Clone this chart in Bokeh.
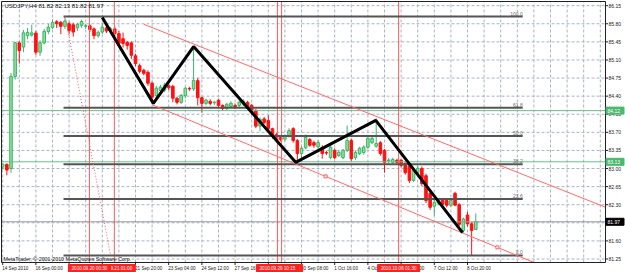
from bokeh.plotting import figure
from bokeh.models import Range1d
from bokeh.core.properties import value
from bokeh.embed import file_html
from bokeh.resources import INLINE

# ---------------- data ----------------
opens = [83.03, 83.08, 83.00, 84.78, 85.43, 85.35, 85.57, 85.58, 85.62, 85.25,
         85.43, 85.65, 85.73, 85.84, 85.83, 85.75, 85.80, 85.78, 85.72, 85.77,
         85.75, 85.76, 85.70, 85.57, 85.64, 85.72, 85.66, 85.70, 85.61, 85.51,
         85.44, 85.43, 85.18, 84.99, 84.90, 84.86, 84.65, 84.41, 84.51, 84.52,
         84.60, 84.59, 84.36, 84.28, 84.41, 84.55, 84.54, 84.70, 84.37, 84.26,
         84.30, 84.27, 84.32, 84.22, 84.16, 84.20, 84.22, 84.22, 84.24, 84.28,
         84.22, 84.12, 83.82, 83.96, 83.93, 83.77, 83.66, 83.60, 83.57, 83.63,
         83.77, 83.54, 83.29, 83.40, 83.56, 83.50, 83.42, 83.41, 83.31, 83.21,
         83.35, 83.25, 83.21, 83.35, 83.54, 83.21, 83.29, 83.31, 83.41, 83.50,
         83.43, 83.50, 83.35, 83.15, 83.12, 83.16, 83.16, 83.10, 83.06, 82.77,
         82.92, 83.00, 82.86, 82.52, 82.27, 82.33, 82.40, 82.38, 82.29, 82.52,
         82.30, 81.80, 82.10, 81.93, 81.82]
highs = [83.10, 83.10, 84.85, 85.45, 85.46, 85.68, 85.72, 85.78, 85.66, 85.48,
         85.70, 85.80, 85.88, 85.87, 85.85, 85.94, 85.84, 85.82, 85.82, 85.88,
         85.80, 85.79, 85.73, 85.67, 85.82, 85.76, 85.74, 85.75, 85.66, 85.63,
         85.47, 85.46, 85.22, 85.03, 84.93, 84.90, 84.68, 84.60, 84.62, 84.66,
         84.64, 84.62, 84.38, 84.44, 84.57, 84.58, 85.36, 84.75, 84.39, 84.35,
         84.34, 84.31, 84.35, 84.24, 84.27, 84.30, 84.26, 84.31, 84.34, 84.31,
         84.25, 84.15, 83.99, 84.00, 84.03, 83.79, 83.69, 83.63, 83.66, 83.78,
         83.80, 83.57, 83.43, 83.66, 83.59, 83.54, 83.55, 83.45, 83.34, 83.45,
         83.39, 83.35, 83.38, 83.83, 83.58, 83.35, 83.42, 83.45, 83.62, 83.64,
         83.97, 83.53, 83.38, 83.20, 83.21, 83.19, 83.19, 83.12, 83.08, 82.99,
         83.05, 83.04, 82.90, 82.55, 82.44, 82.42, 82.43, 82.41, 82.42, 82.55,
         82.33, 82.05, 82.16, 81.96, 82.13]
lows = [82.98, 82.87, 82.92, 84.72, 85.03, 85.25, 85.50, 85.55, 85.20, 85.18,
        85.40, 85.60, 85.70, 85.72, 85.60, 85.70, 85.60, 85.55, 85.66, 85.72,
        85.70, 85.64, 85.50, 85.53, 85.60, 85.62, 85.60, 85.55, 85.36, 85.34,
        85.30, 85.12, 84.98, 84.84, 84.80, 84.60, 84.26, 84.33, 84.47, 84.48,
        84.52, 84.28, 84.24, 84.25, 84.36, 84.50, 84.50, 84.22, 84.08, 84.22,
        84.22, 84.23, 84.19, 84.12, 84.13, 84.17, 84.15, 84.19, 84.21, 84.15,
        84.04, 83.78, 83.72, 83.86, 83.74, 83.58, 83.50, 83.52, 83.53, 83.60,
        83.50, 83.12, 83.20, 83.37, 83.42, 83.40, 83.38, 83.19, 83.26, 83.18,
        83.18, 83.22, 83.18, 83.32, 83.15, 83.17, 83.26, 83.27, 83.38, 83.47,
        83.40, 83.25, 82.92, 83.10, 83.08, 83.08, 83.02, 82.88, 82.72, 82.74,
        82.89, 82.66, 82.33, 82.20, 82.09, 82.29, 82.27, 82.25, 82.26, 82.28,
        81.88, 81.76, 81.88, 81.32, 81.82]
closes = [83.08, 82.97, 84.78, 85.43, 85.28, 85.62, 85.63, 85.62, 85.25, 85.43,
          85.65, 85.73, 85.82, 85.80, 85.75, 85.85, 85.67, 85.64, 85.78, 85.84,
          85.76, 85.69, 85.57, 85.63, 85.73, 85.66, 85.70, 85.61, 85.42, 85.42,
          85.38, 85.19, 85.03, 84.88, 84.84, 84.65, 84.38, 84.55, 84.57, 84.61,
          84.56, 84.36, 84.28, 84.41, 84.55, 84.54, 84.70, 84.37, 84.26, 84.32,
          84.26, 84.28, 84.22, 84.16, 84.24, 84.26, 84.18, 84.28, 84.30, 84.18,
          84.08, 83.82, 83.95, 83.89, 83.77, 83.64, 83.54, 83.56, 83.63, 83.73,
          83.54, 83.29, 83.39, 83.60, 83.45, 83.45, 83.50, 83.29, 83.30, 83.41,
          83.21, 83.31, 83.35, 83.54, 83.19, 83.31, 83.39, 83.41, 83.58, 83.58,
          83.48, 83.29, 83.12, 83.16, 83.17, 83.12, 83.06, 82.92, 82.77, 82.96,
          83.00, 82.71, 82.38, 82.25, 82.34, 82.38, 82.31, 82.29, 82.38, 82.29,
          81.92, 82.02, 81.93, 81.80, 81.97]
bars = list(range(len(opens)))

price_ticks = [86.15, 85.80, 85.45, 85.10, 84.75, 84.40, 84.05, 83.70,
               83.35, 83.00, 82.65, 82.30, 81.95, 81.60, 81.25]
time_tick_bars = [0, 8, 16, 24, 32, 40, 48, 56, 64, 72, 80, 88, 96, 104, 112]
time_tick_labels = ["14 Sep 2010", "16 Sep 00:00", "17 Sep 08:00", "20 Sep 12:00",
                    "21 Sep 20:00", "23 Sep 04:00", "24 Sep 12:00", "27 Sep 16:00",
                    "29 Sep 00:00", "30 Sep 08:00", "1 Oct 16:00", "4 Oct 20:00",
                    "6 Oct 04:00", "7 Oct 12:00", "8 Oct 20:00"]

fib_high, fib_low = 85.94, 81.32
fib_ratios = [1.0, 0.618, 0.5, 0.382, 0.236, 0.0]
fib_names = ["100.0", "61.8", "50.0", "38.2", "23.6", "0.0"]
fib_start_bar, fib_end_bar = 14.65, 125.3
fib_diag_bars = [15.1, 26.0]

zigzag_bars = [24.0, 36.3, 46.0, 70.6, 89.9, 110.8]
zigzag_prices = [85.92, 84.26, 85.36, 83.12, 83.93, 81.76]

upper_channel_bars = [34.0, 145.3]
upper_channel_prices = [85.79, 82.25]
lower_channel_bars = [36.1, 128.4]
lower_channel_prices = [84.23, 81.17]
lower_marker_bars = [77.8, 119.2]

vline_bars = [26.9, 20.9, 67.2, 66.2, 95.4]
vline_labels = ["2010.09.21 01:00", "2010.09.20 00:30", "2010.09.29 14:15",
                "2010.09.29 10:15", "2010.10.06 01:30"]

green_levels = [84.12, 83.13]
bid_price = 81.97
title_text = "USDJPY,H4 81.82 82.13 81.82 81.97"
copyright_text = "MetaTrader, \u00a9 2001-2010 MetaQuotes Software Corp."

# ---------------- layout (pixel geometry of the terminal window) ----------------
W, H = 625, 272
PX_PER_BAR = 4.15
X0_PX = 2.2          # canvas x of bar 0
PX_PER_PRICE = 51.7
TOP_PRICE = 86.25    # price at canvas y = 0
CH_L, CH_R, CH_T, CH_B = 1, 605, 1, 262   # chart box in canvas pixels


def bx(px):
    return (px - X0_PX) / PX_PER_BAR


def py(px):
    return TOP_PRICE - px / PX_PER_PRICE


FONT = value("Liberation Sans")
GRID = "#a9b3c4"
AXIS = "#202020"

p = figure(width=W, height=H, output_backend="svg", toolbar_location=None,
           x_range=Range1d(bx(0), bx(W)), y_range=Range1d(py(H), py(0)),
           x_axis_location=None, y_axis_location=None,
           min_border_left=0, min_border_right=0, min_border_top=0, min_border_bottom=0)
p.background_fill_color = "white"
p.border_fill_color = "white"
p.outline_line_color = None
p.grid.visible = False

L, R, T, B = bx(CH_L), bx(CH_R), py(CH_T), py(CH_B)

# grid
grid_bars = list(range(0, 146, 4))
p.segment(x0=[L] * len(price_ticks), x1=[R] * len(price_ticks), y0=price_ticks, y1=price_ticks,
          line_color=GRID, line_dash="3 2", line_width=1)
p.segment(x0=grid_bars, x1=grid_bars, y0=[B] * len(grid_bars), y1=[T] * len(grid_bars),
          line_color=GRID, line_dash="3 2", line_width=1)

# ---------------- candles ----------------
bull = [i for i in bars if closes[i] >= opens[i]]
bear = [i for i in bars if closes[i] < opens[i]]
BULL_FILL, BULL_LINE = "#8fe08f", "#3cb371"
BEAR_FILL, BEAR_LINE = "#ff1010", "#ff1010"

p.segment(x0=[bars[i] for i in bull], x1=[bars[i] for i in bull],
          y0=[highs[i] for i in bull], y1=[lows[i] for i in bull],
          line_color=BULL_LINE, line_width=1)
p.segment(x0=[bars[i] for i in bear], x1=[bars[i] for i in bear],
          y0=[highs[i] for i in bear], y1=[lows[i] for i in bear],
          line_color=BEAR_LINE, line_width=1)
p.vbar(x=[bars[i] for i in bull], width=0.62,
       top=[max(opens[i], closes[i]) + 0.004 for i in bull],
       bottom=[min(opens[i], closes[i]) for i in bull],
       fill_color=BULL_FILL, line_color=BULL_LINE, line_width=1)
p.vbar(x=[bars[i] for i in bear], width=0.62,
       top=[max(opens[i], closes[i]) for i in bear],
       bottom=[min(opens[i], closes[i]) for i in bear],
       fill_color=BEAR_FILL, line_color=BEAR_LINE, line_width=1)

# ---------------- objects ----------------
p.segment(x0=[L] * len(green_levels), x1=[R] * len(green_levels), y0=green_levels, y1=green_levels,
          line_color="#66c08a", line_width=1)
p.segment(x0=[L], x1=[R], y0=[bid_price], y1=[bid_price], line_color="#9a9a9a", line_width=1)
p.segment(x0=vline_bars, x1=vline_bars, y0=[B] * len(vline_bars), y1=[T] * len(vline_bars),
          line_color="#ff5a5a", line_width=1)

fib_prices = [fib_low + r * (fib_high - fib_low) for r in fib_ratios]
p.segment(x0=[fib_start_bar] * len(fib_prices), x1=[fib_end_bar] * len(fib_prices),
          y0=fib_prices, y1=fib_prices, line_color="#555555", line_width=2)
p.text(x=[fib_end_bar] * len(fib_prices), y=fib_prices, text=fib_names,
       text_font=FONT, text_font_size="5px", text_color="#6a6a6a",
       text_align="right", text_baseline="bottom", y_offset=-1)
p.line(x=fib_diag_bars, y=[fib_high, fib_low], line_color="#ff5a5a",
       line_width=1, line_dash="1 2")


def ray_in_box(bxs, pys):
    s = (pys[1] - pys[0]) / (bxs[1] - bxs[0])
    x_end = R
    y_end = pys[0] + s * (x_end - bxs[0])
    if y_end < B:
        x_end = bxs[0] + (B - pys[0]) / s
        y_end = B
    return [bxs[0], x_end], [pys[0], y_end], s


ux, uy, _ = ray_in_box(upper_channel_bars, upper_channel_prices)
lx, ly, ls = ray_in_box(lower_channel_bars, lower_channel_prices)
p.line(ux, uy, line_color="#ff6a6a", line_width=1)
p.line(lx, ly, line_color="#ff6a6a", line_width=1)
p.scatter(x=lower_marker_bars,
          y=[lower_channel_prices[0] + ls * (b - lower_channel_bars[0]) for b in lower_marker_bars],
          marker="square", size=3, fill_color="white", line_color="#ff5a5a")

p.line(zigzag_bars, zigzag_prices, line_color="black", line_width=3)

# ---------------- chart frame + price scale + time scale ----------------
p.line(x=[L, R, R, L, L], y=[T, T, B, B, T], line_color=AXIS, line_width=1)

tick_x0 = [R] * len(price_ticks)
tick_x1 = [bx(CH_R + 2.5)] * len(price_ticks)
p.segment(x0=tick_x0, x1=tick_x1, y0=price_ticks, y1=price_ticks, line_color=AXIS)
p.text(x=[bx(CH_R + 3)] * len(price_ticks), y=price_ticks, text=["%.2f" % v for v in price_ticks],
       text_font=FONT, text_font_size="5px", text_color=AXIS,
       text_align="left", text_baseline="middle")

p.segment(x0=time_tick_bars, x1=time_tick_bars, y0=[B] * len(time_tick_bars),
          y1=[py(CH_B + 2.5)] * len(time_tick_bars), line_color=AXIS)
p.text(x=time_tick_bars, y=[py(CH_B + 3)] * len(time_tick_bars), text=time_tick_labels,
       x_offset=-0.5, text_font=FONT, text_font_size="4.6px", text_color=AXIS,
       text_align="left", text_baseline="top")

# red time markers of the vertical lines (later ones drawn on top)
for b, t in zip(vline_bars, vline_labels):
    p.rect(x=[b], y=[py(268)], width=42, height=8, width_units="screen", height_units="screen",
           fill_color="#ff2020", line_color="#ff2020")
    p.text(x=[b], y=[py(268)], text=[t], text_font=FONT, text_font_size="4.6px",
           text_color="white", text_align="center", text_baseline="middle")

# price-scale markers for the horizontal lines and the bid
for lv, col in zip(green_levels + [bid_price], ["#4cb870", "#4cb870", "#000000"]):
    p.rect(x=[bx(614.5)], y=[lv], width=18, height=7, width_units="screen", height_units="screen",
           fill_color=col, line_color=col)
    p.text(x=[bx(CH_R + 2)], y=[lv], text=["%.2f" % lv], text_font=FONT, text_font_size="5px",
           text_color="white", text_align="left", text_baseline="middle")

# texts in the chart
p.text(x=[bx(4)], y=[py(2)], text=[title_text], text_font=FONT, text_font_size="6px",
       text_color="#101010", text_align="left", text_baseline="top")
p.text(x=[bx(3)], y=[py(CH_B - 0.5)], text=[copyright_text], text_font=FONT, text_font_size="5.3px",
       text_color="#101010", text_align="left", text_baseline="bottom")

open("out.html", "w").write(file_html(p, INLINE))
